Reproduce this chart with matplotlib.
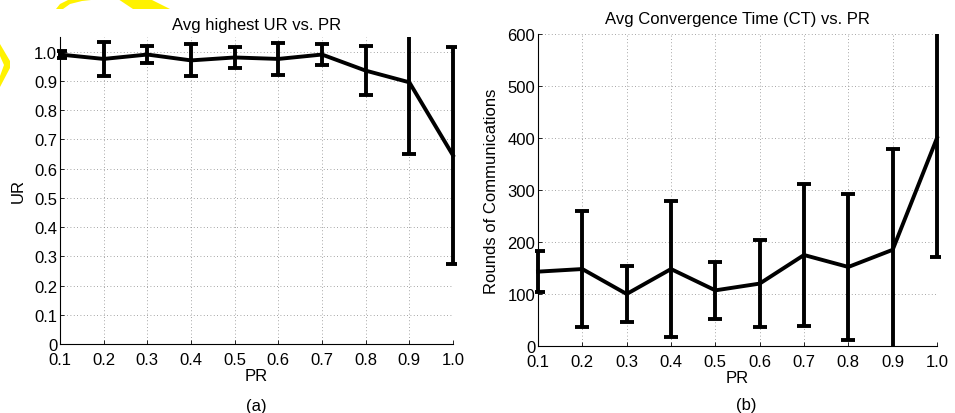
import matplotlib
matplotlib.use("Agg")
import matplotlib.pyplot as plt
from matplotlib.patches import Polygon, Rectangle
import numpy as np

plt.rcParams['font.family'] = ['Liberation Sans', 'DejaVu Sans']

pr = [0.1, 0.2, 0.3, 0.4, 0.5, 0.6, 0.7, 0.8, 0.9, 1.0]
pr_labels = ['0.1', '0.2', '0.3', '0.4', '0.5', '0.6', '0.7', '0.8', '0.9', '1.0']

ur_mean = [0.99, 0.975, 0.99, 0.97, 0.98, 0.975, 0.99, 0.935, 0.895, 0.645]
ur_err = [0.012, 0.058, 0.028, 0.055, 0.035, 0.055, 0.035, 0.085, 0.245, 0.37]
ur_ticks = [0, 0.1, 0.2, 0.3, 0.4, 0.5, 0.6, 0.7, 0.8, 0.9, 1.0]
ur_tick_labels = ['0', '0.1', '0.2', '0.3', '0.4', '0.5', '0.6', '0.7', '0.8', '0.9', '1.0']

ct_mean = [143, 148, 100, 148, 107, 120, 175, 152, 185, 400]
ct_err = [40, 112, 53, 131, 55, 84, 136, 140, 193, 228]
ct_ticks = [0, 100, 200, 300, 400, 500, 600]

W, H = 955, 414
FS = 12
fig = plt.figure(figsize=(W / 100, H / 100), dpi=100)

# watermark fragments in margins
yellow = '#fff200'
def px(pts):
    return [(x / W, 1 - y / H) for x, y in pts]
for pts in [
    [(56, 10), (63, 10), (70, 5), (82, 2), (100, 0), (110, 0), (70, 0), (60, 5)],
    [(118, 0), (150, 0), (170, 10), (133, 10)],
    [(0, 45), (10, 62), (10, 69), (0, 88), (0, 77), (4, 66), (0, 57)],
]:
    fig.patches.append(Polygon(px(pts), closed=True, transform=fig.transFigure,
                               facecolor=yellow, edgecolor='none', zorder=0))

def style(ax):
    for s in ['top', 'right']:
        ax.spines[s].set_visible(False)
    for s in ['left', 'bottom']:
        ax.spines[s].set_linewidth(0.8)
        ax.spines[s].set_color('black')
    ax.tick_params(direction='in', length=3, width=0.6, labelsize=FS, pad=2)
    ax.tick_params(axis='x', pad=5.5)
    ax.grid(True, linestyle=(0, (1, 3)), color='#888888', linewidth=0.6)
    ax.set_axisbelow(True)
    ax.patch.set_alpha(0)

def draw(ax, x, y, e):
    cont = ax.errorbar(x, y, yerr=e, color='black', linewidth=2.8,
                       elinewidth=2.8, capsize=4.8, capthick=2.8)
    clip = Rectangle((-0.008, 0), 1.016, 1, transform=ax.transAxes,
                     facecolor='none', edgecolor='none')
    ax.add_patch(clip)
    for art in cont.get_children():
        art.set_clip_path(clip)

# left axes
ax1 = fig.add_axes([60 / W, 1 - 345 / H, 393 / W, 307 / H])
draw(ax1, pr, ur_mean, ur_err)
ax1.set_xlim(0.1, 1.0)
ax1.set_ylim(0, 1.05)
ax1.set_xticks(pr)
ax1.set_xticklabels(pr_labels)
ax1.set_yticks(ur_ticks)
ax1.set_yticklabels(ur_tick_labels)
style(ax1)
ax1.set_title('Avg highest UR vs. PR', fontsize=FS, pad=6)
ax1.set_xlabel('PR', fontsize=FS, labelpad=1)
ax1.set_ylabel('UR', fontsize=FS, labelpad=6)

# right axes
ax2 = fig.add_axes([538 / W, 1 - 347 / H, 399 / W, 312 / H])
draw(ax2, pr, ct_mean, ct_err)
ax2.set_xlim(0.1, 1.0)
ax2.set_ylim(0, 600)
ax2.set_xticks(pr)
ax2.set_xticklabels(pr_labels)
ax2.set_yticks(ct_ticks)
style(ax2)
ax2.set_title('Avg Convergence Time (CT) vs. PR', fontsize=FS, pad=8)
ax2.set_xlabel('PR', fontsize=FS, labelpad=1)
ax2.set_ylabel('Rounds of Communications', fontsize=FS, labelpad=6)

fig.text(256 / W, 1 - 407 / H, '(a)', ha='center', va='center', fontsize=FS)
fig.text(746 / W, 1 - 406 / H, '(b)', ha='center', va='center', fontsize=FS)

fig.savefig('out.png', dpi=100)
